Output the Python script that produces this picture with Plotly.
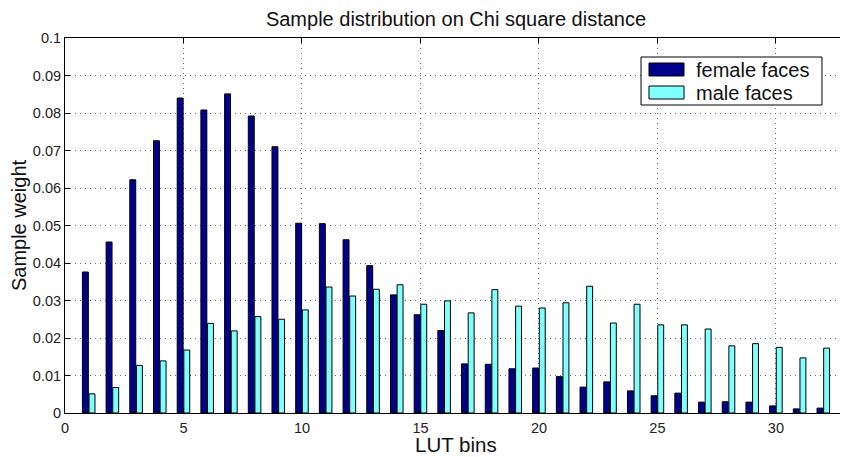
import plotly.graph_objects as go

bins = list(range(1, 33))
female = [0.0376, 0.0456, 0.0622, 0.0726, 0.0840, 0.0808, 0.0851, 0.0792, 0.0710, 0.0506,
          0.0505, 0.0462, 0.0393, 0.0315, 0.0262, 0.0220, 0.0131, 0.0130, 0.0118, 0.0120,
          0.0097, 0.0069, 0.0083, 0.0059, 0.0046, 0.0053, 0.0029, 0.0030, 0.0029, 0.0019,
          0.0011, 0.0013]
male = [0.0051, 0.0068, 0.0127, 0.0139, 0.0168, 0.0239, 0.0219, 0.0257, 0.0250, 0.0275,
        0.0336, 0.0312, 0.0330, 0.0342, 0.0290, 0.0299, 0.0267, 0.0329, 0.0285, 0.0280,
        0.0294, 0.0338, 0.0240, 0.0290, 0.0235, 0.0235, 0.0224, 0.0179, 0.0185, 0.0175,
        0.0147, 0.0173]
series_names = ["female faces", "male faces"]
series_colors = ["#00008C", "#80FFFF"]
x_ticks = [0, 5, 10, 15, 20, 25, 30]
y_ticks = [0, 0.01, 0.02, 0.03, 0.04, 0.05, 0.06, 0.07, 0.08, 0.09, 0.1]
y_tick_labels = ["0", "0.01", "0.02", "0.03", "0.04", "0.05", "0.06", "0.07", "0.08", "0.09", "0.1"]

FONT = "Liberation Sans, Arial, sans-serif"
TXT = "#111111"

fig = go.Figure()
fig.add_trace(go.Bar(x=bins, y=female, name=series_names[0], width=0.25, offset=-0.265,
                     marker=dict(color=series_colors[0], line=dict(color="#000000", width=1))))
fig.add_trace(go.Bar(x=bins, y=male, name=series_names[1], width=0.25, offset=0.015,
                     marker=dict(color=series_colors[1], line=dict(color="#000000", width=1))))

axis_common = dict(showline=True, linecolor="#000000", linewidth=1, mirror="ticks",
                   ticks="inside", ticklen=5, tickcolor="#000000",
                   showgrid=True, gridcolor="#666666", gridwidth=1, griddash="1px,4px",
                   zeroline=False, automargin=False,
                   tickfont=dict(family=FONT, size=14.5, color="#222222"))

# manual MATLAB-style legend (box, swatches, labels) in paper coordinates
shapes = [
    dict(type="rect", xref="paper", yref="paper", x0=0.7366, x1=0.968, y0=0.8213, y1=0.9493,
         line=dict(color="#000000", width=1), fillcolor="white", layer="above"),
    dict(type="rect", xref="paper", yref="paper", x0=0.7468, x1=0.7916, y0=0.8987, y1=0.9333,
         line=dict(color="#000000", width=1), fillcolor=series_colors[0], layer="above"),
    dict(type="rect", xref="paper", yref="paper", x0=0.7468, x1=0.7916, y0=0.8373, y1=0.872,
         line=dict(color="#000000", width=1), fillcolor=series_colors[1], layer="above"),
]
annotations = [
    dict(text=series_names[0], xref="paper", yref="paper", x=0.8043, y=0.9147,
         xanchor="left", yanchor="middle", showarrow=False,
         font=dict(family=FONT, size=20, color=TXT)),
    dict(text=series_names[1], xref="paper", yref="paper", x=0.8043, y=0.8533,
         xanchor="left", yanchor="middle", showarrow=False,
         font=dict(family=FONT, size=20, color=TXT)),
    dict(text="LUT bins", xref="paper", yref="paper", x=0.5, y=0, yshift=-31,
         xanchor="center", yanchor="middle", showarrow=False,
         font=dict(family=FONT, size=20.5, color=TXT)),
]

fig.update_layout(
    width=840, height=449,
    margin=dict(l=57, r=1, t=30, b=44),
    paper_bgcolor="white", plot_bgcolor="white",
    barmode="overlay",
    showlegend=False,
    title=dict(text="Sample distribution on Chi square distance", x=0.5, xanchor="center",
               xref="paper", y=0.991, yanchor="top", automargin=False,
               font=dict(family=FONT, size=20, color=TXT)),
    xaxis=dict(range=[0, 33], tickvals=x_ticks, ticktext=[str(v) for v in x_ticks],
               ticklabelstandoff=2, **axis_common),
    yaxis=dict(range=[0, 0.1], tickvals=y_ticks, ticktext=y_tick_labels,
               title=dict(text="Sample weight", standoff=15, font=dict(family=FONT, size=20, color=TXT)),
               **axis_common),
    shapes=shapes,
    annotations=annotations,
)

fig.write_html("out.html")
